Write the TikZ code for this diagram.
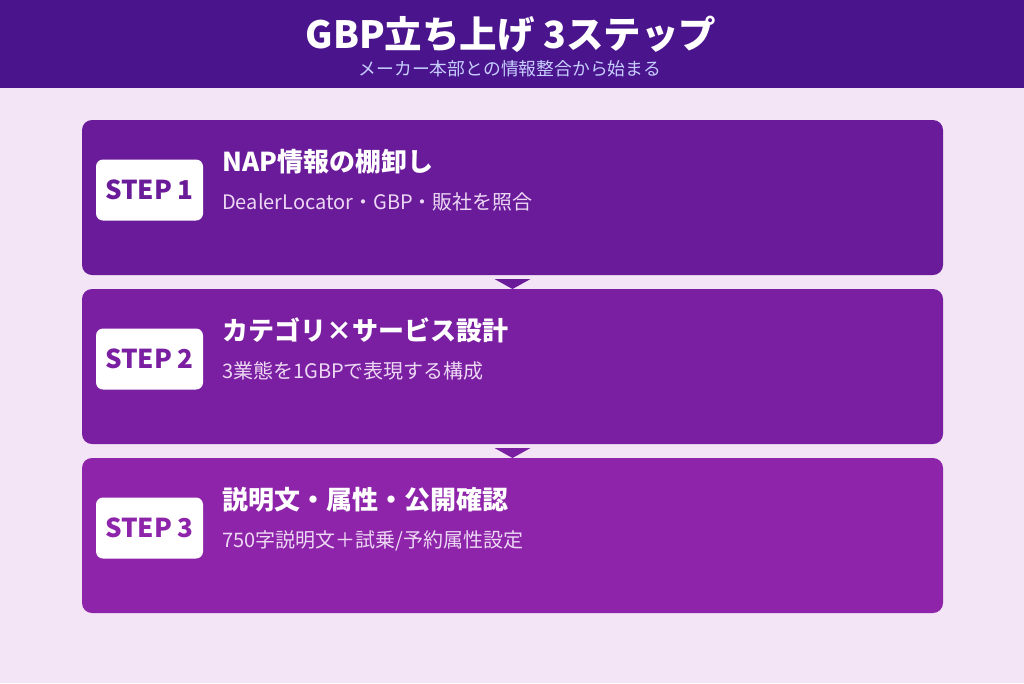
\documentclass[tikz,border=0pt]{standalone}
\usepackage{fontspec}
\setmainfont{Noto Sans CJK JP}

\definecolor{pagebg}{HTML}{F3E5F5}
\definecolor{headbg}{HTML}{4A148C}
\definecolor{headsub}{HTML}{C7CEFF}
\definecolor{stepone}{HTML}{6A1B9A}
\definecolor{steptwo}{HTML}{7B1FA2}
\definecolor{stepthree}{HTML}{8E24AA}
\definecolor{notetext}{HTML}{EDD8F4}

\tikzset{
  step box/.style={fill=#1, rounded corners=10pt, inner sep=0pt, outer sep=0pt,
    minimum width=861pt, minimum height=155pt},
  badge/.style={fill=white, rounded corners=7pt, inner sep=0pt,
    minimum width=107pt, minimum height=61pt, text=#1,
    font=\bfseries\fontsize{26}{26}\selectfont},
  step title/.style={anchor=base west, inner sep=0pt, text=white,
    font=\bfseries\fontsize{26}{26}\selectfont},
  step note/.style={anchor=base west, inner sep=0pt, text=notetext,
    font=\fontsize{20}{20}\selectfont},
}

\begin{document}
\begin{tikzpicture}[x=1pt, y=-1pt]
  \useasboundingbox [fill=pagebg] (0,0) rectangle (1024,683);

  % header
  \node (header) [fill=headbg, anchor=north west, inner sep=0pt,
    minimum width=1024pt, minimum height=88pt] at (0,0) {};
  \node (main title) [text=white, font=\bfseries\fontsize{37.5}{37.5}\selectfont]
    at (511,34) {GBP立ち上げ 3ステップ};
  \node (main note) [text=headsub, font=\fontsize{17.8}{17.8}\selectfont]
    at (510,69) {メーカー本部との情報整合から始まる};

  % steps
  \node (step1) [step box=stepone] at (512.5,197.5) {};
  \node (step2) [step box=steptwo] at (512.5,366.5) {};
  \node (step3) [step box=stepthree] at (512.5,535.5) {};

  \node (badge1) [badge=stepone] at (149.5,190) {STEP 1};
  \node (badge2) [badge=steptwo] at (149.5,359) {STEP 2};
  \node (badge3) [badge=stepthree] at (149.5,528) {STEP 3};

  \node (title1) [step title] at (222,171) {NAP情報の棚卸し};
  \node (note1) [step note] at (222,209) {DealerLocator・GBP・販社を照合};
  \node (title2) [step title] at (222,340) {カテゴリ×サービス設計};
  \node (note2) [step note] at (222,378) {3業態を1GBPで表現する構成};
  \node (title3) [step title] at (222,509) {説明文・属性・公開確認};
  \node (note3) [step note] at (222,547) {750字説明文＋試乗/予約属性設定};

  % arrows between steps
  \fill [stepone]
    (step1.south) ++(-18,4) -- ++(36,0) -- (step2.north) -- cycle
  ;
  \fill [steptwo]
    (step2.south) ++(-18,4) -- ++(36,0) -- (step3.north) -- cycle
  ;
\end{tikzpicture}
\end{document}
